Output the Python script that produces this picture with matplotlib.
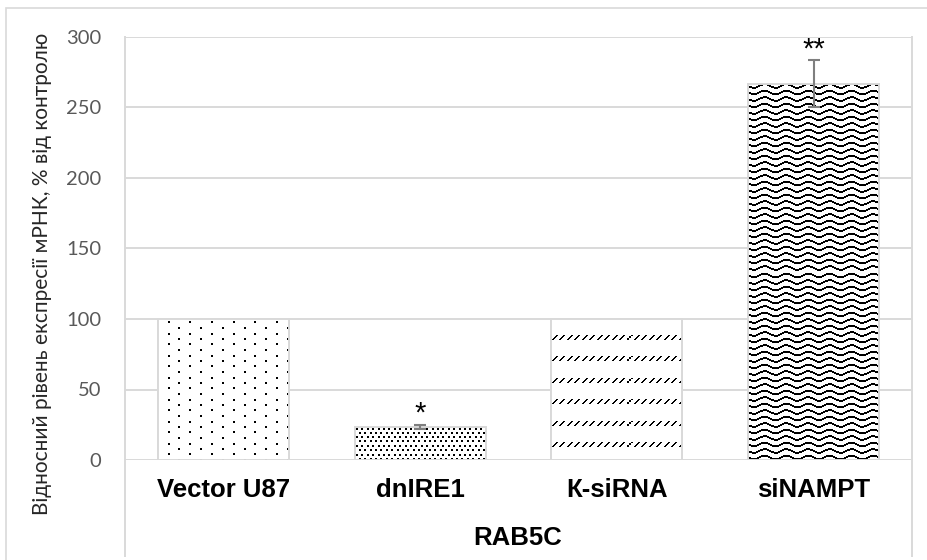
import numpy as np
import matplotlib
matplotlib.use('Agg')
import matplotlib.pyplot as plt
from matplotlib.lines import Line2D
from matplotlib.patches import Rectangle

# RAB5C mRNA expression, % of control
groups = ['Vector U87', 'dnIRE1', 'К-siRNA', 'siNAMPT']
values = [100, 23.5, 100, 267]
errors = [0, 1.5, 0, 16.5]
stars = ['', '*', '', '**']
fills = ['dots', 'dense', 'dash', 'wave']

ylabel = 'Відносний рівень експресії мРНК, % від контролю'
xlabel = 'RAB5C'

grid_grey = '#d9d9d9'
text_grey = '#595959'
cat_font = 'Liberation Sans'
num_font = 'Lato'

W, H = 927, 560
fig = plt.figure(figsize=(W / 100, H / 100), dpi=100)
fig.patch.set_facecolor('white')

# plot area in pixels: x 125..912, y 37..460
ax = fig.add_axes([125 / W, 1 - 460 / H, (912 - 125) / W, (460 - 37) / H])
ax.set_xlim(-0.5, 3.5)
ax.set_ylim(0, 300)
for s in ax.spines.values():
    s.set_visible(False)
ax.set_yticks(np.arange(0, 301, 50))
ax.yaxis.grid(True, color=grid_grey, linewidth=1.4)
ax.set_axisbelow(True)
ax.tick_params(axis='y', length=0, pad=17, labelsize=14.5, labelcolor=text_grey)
for lab in ax.get_yticklabels():
    lab.set_fontfamily(num_font)
ax.set_xticks(range(len(groups)))
ax.set_xticklabels(groups, fontfamily=cat_font, fontweight='bold', fontsize=18.5)
ax.tick_params(axis='x', length=0, pad=13)

# category axis box lines
for xa in (0, 1):
    ax.add_line(Line2D([xa, xa], [-(556 - 460) / 423, 1], transform=ax.transAxes,
                       color=grid_grey, linewidth=1.4, clip_on=False))

x = np.arange(len(groups))
bars = ax.bar(x, values, width=0.665, color='white', edgecolor=grid_grey, linewidth=1.4, zorder=2)


def put(img, px, py, s=2):
    px, py = int(round(px)), int(round(py))
    if px < 0 or py < 0:
        return
    img[py:py + s, px:px + s] = 0


def make_fill(kind, w, h):
    img = np.ones((h, w))
    if kind == 'dots':
        for j, py in enumerate(np.arange(2.5, h, 5.5)):
            x0 = 9.7 if j % 2 == 0 else 20.5
            for px in np.arange(x0 - 21.7, w, 21.7):
                put(img, px, py)
    elif kind == 'dense':
        for j, py in enumerate(np.arange(1.5, h, 4.2)):
            x0 = 1.0 if j % 2 == 0 else 3.7
            for px in np.arange(x0, w, 5.4):
                put(img, px, py)
    elif kind == 'dash':
        # rows of short rising strokes
        for py in np.arange(h - 18, -10, -21.4):
            for px in np.arange(1, w, 7.45):
                for t in range(5):
                    xx, yy = int(round(px + t)), int(round(py + 4 - t))
                    if 0 <= yy < h:
                        img[yy, max(xx, 0):max(xx + 2, 0)] = 0
    elif kind == 'wave':
        period = 21.7
        for py in np.arange(2, h, 6.5):
            for px in range(w):
                dy = 1.8 * np.sin(2 * np.pi * px / period)
                yy = int(round(py + dy))
                if 0 <= yy < h - 1:
                    img[yy:yy + 2, px] = 0
    return img


for bar, kind in zip(bars, fills):
    x0, y0 = bar.get_x(), bar.get_y()
    x1, y1 = x0 + bar.get_width(), y0 + bar.get_height()
    (dx0, dy0), (dx1, dy1) = ax.transData.transform([(x0, y0), (x1, y1)])
    w, h = int(round(dx1 - dx0)), int(round(dy1 - dy0))
    img = make_fill(kind, w, h)
    im = ax.imshow(img, cmap='gray', vmin=0, vmax=1, extent=(x0, x1, y0, y1),
                   interpolation='nearest', aspect='auto', zorder=2.5, origin='upper')
    im.set_clip_path(bar)

# bar outlines on top of the fills
ax.bar(x, values, width=0.665, fill=False, edgecolor=grid_grey, linewidth=1.4, zorder=3)

# error bars and significance marks
for xi, v, e, st in zip(x, values, errors, stars):
    if e > 0:
        ax.errorbar(xi, v, yerr=e, fmt='none', ecolor='#7f7f7f', elinewidth=1.5,
                    capsize=4.5, capthick=1.5, zorder=4)
    if st:
        ax.annotate(st, (xi, v + e), xytext=(0, 3), textcoords='offset pixels',
                    ha='center', va='baseline', fontsize=21, fontfamily=cat_font,
                    color='black', zorder=5)

ax.set_xlim(-0.5, 3.5)
ax.set_ylim(0, 300)

fig.text(518 / W, 1 - 538 / H, xlabel, ha='center', va='center', fontfamily=cat_font,
         fontweight='bold', fontsize=18.5)
fig.text(42 / W, 1 - 274 / H, ylabel, rotation=90, ha='center', va='center',
         fontfamily=num_font, fontsize=15, color='#262626')

# chart border
fig.add_artist(Rectangle((6 / W, -0.1), 1.2, 1.1 - 8 / H, transform=fig.transFigure,
                         fill=False, edgecolor=grid_grey, linewidth=1.2))

fig.savefig('out.png', dpi=100)
